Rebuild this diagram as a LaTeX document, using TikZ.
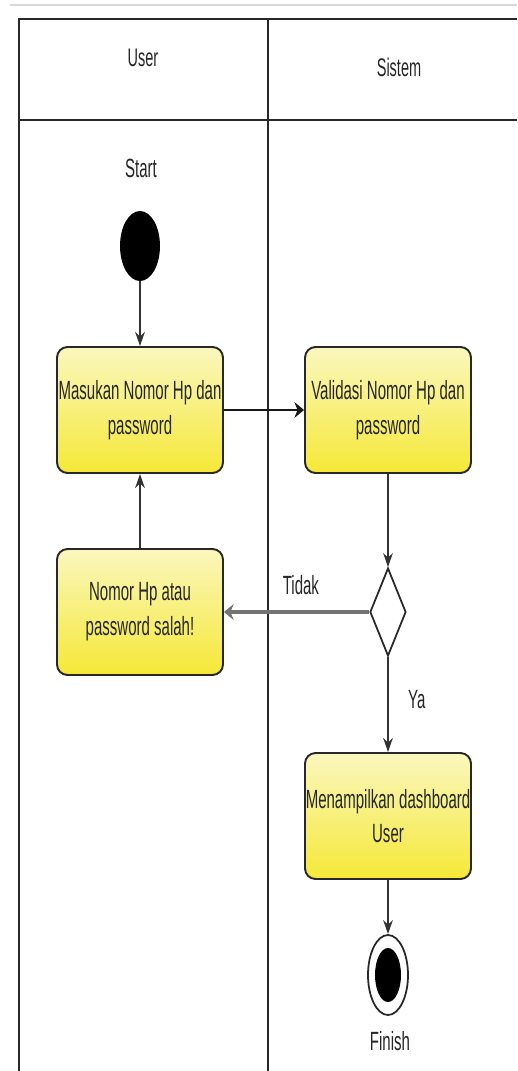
\documentclass[tikz,border=0pt]{standalone}
\usepackage{fontspec}
\setmainfont[FakeStretch=0.57]{Liberation Sans}
\usetikzlibrary{shapes.geometric,arrows.meta}
\definecolor{boxtop}{RGB}{250,247,190}
\definecolor{boxbot}{RGB}{245,232,55}
\definecolor{frame}{RGB}{40,40,40}
\tikzset{
  act/.style={draw=frame, line width=1.1pt, rounded corners=6pt,
    top color=boxtop, bottom color=boxbot, shading angle=0,
    minimum width=3.32cm, minimum height=2.52cm, inner sep=0pt,
    align=center, font=\fontsize{15}{19.8}\selectfont, text=black!85},
  lbl/.style={font=\fontsize{15}{18}\selectfont, inner sep=0pt, text=black!85},
  hdr/.style={font=\fontsize{14.5}{17}\selectfont, inner sep=0pt, text=black!85},
  lane/.style={draw=frame, line width=1.1pt},
  varr/.style={draw=black!80, line width=0.9pt, -{Stealth[length=8pt,width=5.5pt]}},
  harr/.style={draw=black!80, line width=1.1pt, -{Stealth[length=5.5pt,width=9pt]}},
}
\begin{document}
\begin{tikzpicture}[x=0.02cm, y=-0.02cm]
\useasboundingbox (0,0) rectangle (517,1071);
% thin rule above the swimlanes
\draw[black!15, line width=1.6pt] (10,5) -- (517,5);
% swimlane frame
\draw[lane] (19,1071) -- (19,19) -- (517,19);
\draw[lane] (19,120) -- (517,120);
\draw[lane] (268,19) -- (268,1071);
\node[hdr] (hUser) at (143,58) {User};
\node[hdr] (hSistem) at (399,67) {Sistem};
% activities
\node[lbl] (lStart) at (141,168) {Start};
\node[ellipse, fill=black, minimum width=0.8cm, minimum height=1.4cm, inner sep=0pt] (start) at (140,246) {};
\node[act] (input) at (140,410) {Masukan Nomor Hp dan\\password};
\node[act] (valid) at (388,410) {Validasi Nomor Hp dan\\password};
\node[diamond, draw=frame, line width=1pt, fill=white, minimum width=0.72cm, minimum height=1.76cm, inner sep=0pt] (dec) at (388,612) {};
\node[act] (err) at (140,612) {Nomor Hp atau\\password salah!};
\node[act] (dash) at (388,816) {Menampilkan dashboard\\User};
\node[ellipse, draw=frame, line width=1pt, fill=white, minimum width=0.8cm, minimum height=1.6cm, inner sep=0pt] (fin) at (388,975) {};
\node[ellipse, fill=black, minimum width=0.52cm, minimum height=1.08cm, inner sep=0pt] (finIn) at (388,975) {};
\node[lbl] (lFinish) at (390,1041) {Finish};
% flows
\draw[varr] (start) -- (input);
\draw[harr, line width=1.4pt, draw=black!90] (input) -- (valid);
\draw[varr] (valid) -- (dec);
\draw[harr, line width=1.8pt, draw=black!55] (dec) -- node[lbl, above=9pt, pos=0.47] (lTidak) {Tidak} (err);
\draw[varr] (err) -- (input);
\draw[varr] (dec) -- node[lbl, right=11pt, pos=0.45] (lYa) {Ya} (dash);
\draw[varr] (dash) -- (fin);
\end{tikzpicture}
\end{document}
